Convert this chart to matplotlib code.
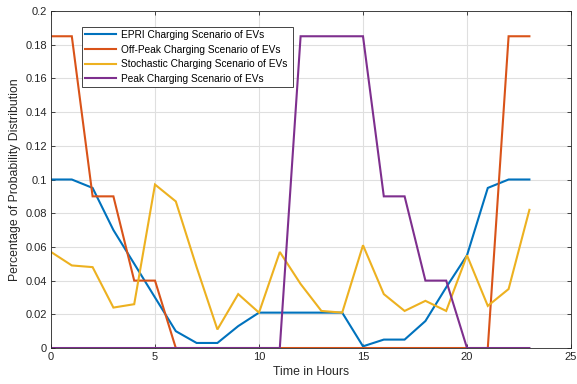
import numpy as np
import matplotlib as mpl
mpl.use('Agg')
import matplotlib.pyplot as plt
from matplotlib.ticker import FormatStrFormatter, MultipleLocator

# hourly data
hours = list(range(24))

epri = [0.100, 0.100, 0.095, 0.070, 0.050, 0.030, 0.010, 0.003, 0.003, 0.013,
        0.021, 0.021, 0.021, 0.021, 0.021, 0.001, 0.005, 0.005, 0.016, 0.036,
        0.055, 0.095, 0.100, 0.100]

off_peak = [0.185, 0.185, 0.090, 0.090, 0.040, 0.040, 0.0, 0.0, 0.0, 0.0,
            0.0, 0.0, 0.0, 0.0, 0.0, 0.0, 0.0, 0.0, 0.0, 0.0,
            0.0, 0.0, 0.185, 0.185]

stochastic = [0.057, 0.049, 0.048, 0.024, 0.026, 0.097, 0.087, 0.048, 0.011, 0.032,
              0.021, 0.057, 0.038, 0.022, 0.021, 0.061, 0.032, 0.022, 0.028, 0.022,
              0.055, 0.025, 0.035, 0.082]

peak = [0.0, 0.0, 0.0, 0.0, 0.0, 0.0, 0.0, 0.0, 0.0, 0.0,
        0.0, 0.0, 0.185, 0.185, 0.185, 0.185, 0.090, 0.090, 0.040, 0.040,
        0.0, 0.0, 0.0, 0.0]

labels = ['EPRI Charging Scenario of EVs',
          'Off-Peak Charging Scenario of EVs',
          'Stochastic Charging Scenario of EVs',
          'Peak Charging Scenario of EVs']

# matlab default colours
line_color = ['#0072BD', '#D95319', '#EDB120', '#7E2F8E']
line_width = 1.5

plt.rc('font', family=['Liberation Sans', 'DejaVu Sans'], size=8)

fig = plt.figure(figsize=(5.77, 3.84), dpi=100)
ax = fig.add_axes([0.0884, 0.0937, 0.9012, 0.8777])

for k, series in enumerate([epri, off_peak, stochastic, peak]):
    ax.plot(hours, series, c=line_color[k], lw=line_width, label=labels[k],
            solid_joinstyle='miter')

ax.set_xlim(0, 25)
ax.set_ylim(0, 0.2)
ax.xaxis.set_major_locator(MultipleLocator(5))
ax.yaxis.set_major_locator(MultipleLocator(0.02))
ax.yaxis.set_major_formatter(FormatStrFormatter('%g'))

ax.grid(True, color='#dfdfdf', lw=0.8)
ax.set_axisbelow(True)
ax.tick_params(direction='in', top=True, right=True, length=3,
               colors='#262626', labelcolor='#262626', width=0.6, pad=3)
for sp in ax.spines.values():
    sp.set_color('#262626')
    sp.set_linewidth(0.6)

ax.set_xlabel('Time in Hours', fontsize=8.8, color='#262626', labelpad=3)
ax.set_ylabel('Percentage of Probability Distribution', fontsize=8.8,
              color='#262626', labelpad=3)

leg = ax.legend(loc='upper left', bbox_to_anchor=(0.0596, 0.5, 0.406, 0.4525),
                mode='expand', fontsize=7.3,
                fancybox=False, framealpha=1, edgecolor='#262626',
                handlelength=3.1, borderpad=0.3, labelspacing=0.45,
                handletextpad=0.4, borderaxespad=0)
leg.get_frame().set_linewidth(0.6)

fig.savefig('out.png', dpi=100)
